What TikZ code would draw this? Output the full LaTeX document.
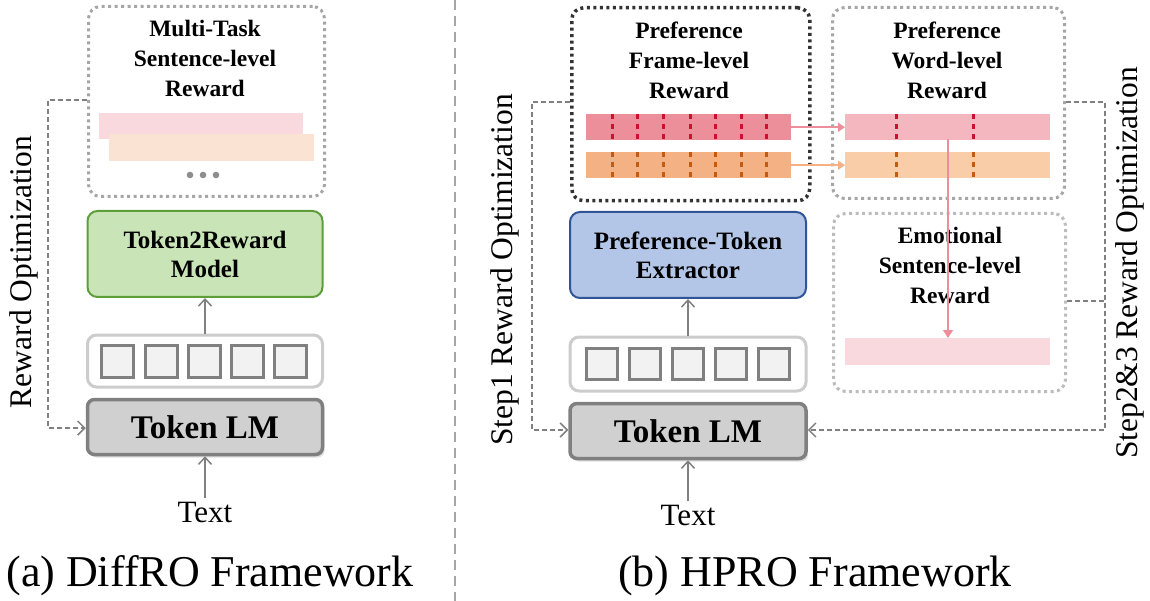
\documentclass[tikz,border=0pt]{standalone}
\usepackage{fontspec}
\setmainfont{Liberation Serif}
\usetikzlibrary{arrows.meta,shadows}
\definecolor{dgray}{HTML}{808080}
\definecolor{lgray}{HTML}{A6A6A6}
\definecolor{tokfill}{HTML}{D0D0D0}
\definecolor{grfill}{HTML}{C9E4B6}
\definecolor{grline}{HTML}{5E9E3A}
\definecolor{blfill}{HTML}{B4C6E7}
\definecolor{blline}{HTML}{2F5597}
\definecolor{redbar}{HTML}{EC8F9A}
\definecolor{reddash}{HTML}{CC1030}
\definecolor{orbar}{HTML}{F4B183}
\definecolor{ordash}{HTML}{C55A11}
\definecolor{pinkbar}{HTML}{F4B6BF}
\definecolor{peachbar}{HTML}{F8CDA8}
\definecolor{lpink}{HTML}{F9D8DE}
\definecolor{lpeach}{HTML}{FBE3D3}
\begin{document}
\begin{tikzpicture}[x=1pt,y=-1pt,
  dotbox/.style={draw=lgray,line width=3pt,dash pattern=on 3pt off 3.5pt,rounded corners=12pt},
  darkbox/.style={draw=black!80,line width=3.5pt,dash pattern=on 3pt off 3.5pt,rounded corners=12pt},
  lightbox/.style={draw=lgray!70,line width=3pt,dash pattern=on 3pt off 3.5pt,rounded corners=12pt},
  ttl/.style={font=\fontsize{23.5}{30}\selectfont\bfseries,align=center},
  lm/.style={draw=dgray,line width=3.5pt,fill=tokfill,rounded corners=7pt,font=\fontsize{33}{34}\selectfont\bfseries,drop shadow={opacity=0.25,shadow xshift=2pt,shadow yshift=-3pt}},
  row/.style={draw=black!20,line width=3pt,fill=white,rounded corners=9pt},
  sq/.style={draw=dgray,line width=3pt,fill=black!5},
  up/.style={draw=dgray,line width=1.5pt,-{Straight Barb[length=7pt,width=13pt,line width=1.5pt]}},
  opt/.style={draw=dgray,line width=1.4pt,dash pattern=on 5pt off 3pt,-{Straight Barb[length=7pt,width=14pt,line width=1.5pt]}},
  side/.style={font=\fontsize{31.5}{32}\selectfont,rotate=90},
  captxt/.style={font=\fontsize{44}{46}\selectfont},
  dsh/.style={line width=3pt,dash pattern=on 5pt off 5pt}]
\useasboundingbox (0,0) rectangle (1150,601);
% divider
\draw[lgray,line width=2.5pt,dash pattern=on 10pt off 6pt] (455,0) -- (455,601);

% ===== left panel =====
\node[dotbox,minimum width=236pt,minimum height=190pt,anchor=north west] (mt) at (87,5) {};
\node[ttl] (mtt) at (205,58) {Multi-Task\\Sentence-level\\Reward};
\node[fill=lpink,minimum width=204pt,minimum height=26pt,inner sep=0,anchor=north west] (b1) at (99,113) {};
\node[fill=lpeach,minimum width=205pt,minimum height=27pt,inner sep=0,anchor=north west] (b2) at (109,134) {};
\foreach \x in {190,203,216}\fill[dgray!90] (\x,175) circle (3.3pt);
\node[draw=grline,line width=2pt,fill=grfill,rounded corners=10pt,minimum width=235pt,minimum height=86pt,ttl,font=\fontsize{25}{29}\selectfont\bfseries] (t2r) at (205,254) {Token2Reward\\Model};
\node[row,minimum width=235pt,minimum height=52pt] (r1) at (205,361) {};
\foreach \x in {117,161,204,247,290}\node[sq,minimum size=32pt,inner sep=0] at (\x,361) {};
\node[lm,minimum width=235pt,minimum height=55pt] (lm1) at (205,427) {Token LM};
\node[font=\fontsize{31}{32}\selectfont] (tx1) at (205,512) {Text};
\draw[up] (r1.north) -- (t2r.south);
\draw[up] (tx1.north) -- (lm1.south);
\coordinate (c1) at (48,100);
\draw[opt] (mt.west|-c1) -- (c1) -- (48,428) -- (lm1.west|-0,428);
\node[side] (ro) at (24,272) {Reward Optimization};
\node[captxt] (ca) at (210,576) {(a) DiffRO Framework};

% ===== right panel =====
\node[darkbox,minimum width=238pt,minimum height=193pt,anchor=north west] (fr) at (570,6) {};
\node[ttl] at (689,60) {Preference\\Frame-level\\Reward};
\node[lightbox,draw=lgray,minimum width=232pt,minimum height=191pt,anchor=north west] (wd) at (831,6) {};
\node[ttl] at (947,60) {Preference\\Word-level\\Reward};
\node[lightbox,draw=lgray!75,minimum width=232pt,minimum height=178pt,anchor=north west] (em) at (832,212) {};
\node[ttl] at (950,265) {Emotional\\Sentence-level\\Reward};

\node[fill=redbar,minimum width=205pt,minimum height=26pt,inner sep=0,anchor=north west] (fb1) at (586,114) {};
\node[fill=orbar,minimum width=205pt,minimum height=26pt,inner sep=0,anchor=north west] (fb2) at (586,152) {};
\foreach \x in {612,637,663,690,715,741,766}{
  \draw[reddash,dsh] (\x,114) -- (\x,139);
  \draw[ordash,dsh] (\x,152) -- (\x,178);}
\node[fill=pinkbar,minimum width=205pt,minimum height=26pt,inner sep=0,anchor=north west] (wb1) at (845,114) {};
\node[fill=peachbar,minimum width=205pt,minimum height=26pt,inner sep=0,anchor=north west] (wb2) at (845,152) {};
\foreach \x in {896,973}{
  \draw[reddash,dsh] (\x,114) -- (\x,139);
  \draw[ordash,dsh] (\x,152) -- (\x,178);}
\node[fill=lpink,minimum width=205pt,minimum height=27pt,inner sep=0,anchor=north west] (eb) at (845,338) {};
\draw[redbar,line width=1.6pt,-{Triangle[length=7pt,width=9pt]}] (fb1.east) -- (wb1.west);
\draw[orbar,line width=1.6pt,-{Triangle[length=7pt,width=9pt]}] (fb2.east) -- (wb2.west);
\draw[redbar,line width=1.6pt,-{Triangle[length=8pt,width=10pt]}] (948,139) -- (eb.north-|948,0);

\node[draw=blline,line width=2pt,fill=blfill,rounded corners=10pt,minimum width=236pt,minimum height=86pt,ttl,font=\fontsize{25}{29}\selectfont\bfseries] (ex) at (688,255) {Preference-Token\\Extractor};
\node[row,minimum width=236pt,minimum height=54pt] (r2) at (688,364) {};
\foreach \x in {602,645,688,731,774}\node[sq,minimum size=31pt,inner sep=0] at (\x,364) {};
\node[lm,minimum width=236pt,minimum height=55pt] (lm2) at (688,431) {Token LM};
\node[font=\fontsize{31}{32}\selectfont] (tx2) at (688,515) {Text};
\draw[up] (r2.north) -- (ex.south);
\draw[up] (tx2.north) -- (lm2.south);
\coordinate (c2) at (532,102);
\draw[opt] (fr.west|-c2) -- (c2) -- (532,430) -- (lm2.west|-0,430);
\coordinate (c3) at (1105,102);
\draw[opt] (wd.east|-c3) -- (c3) -- (1105,430) -- (lm2.east|-0,430);
\draw[draw=dgray,line width=1.4pt,dash pattern=on 5pt off 3pt] (em.east|-0,301) -- (1105,301);
\node[side] (s1) at (505,270) {Step1 Reward Optimization};
\node[side] (s2) at (1130,263) {Step2\&3 Reward Optimization};
\node[captxt] (cb) at (815,576) {(b) HPRO Framework};
\end{tikzpicture}
\end{document}
